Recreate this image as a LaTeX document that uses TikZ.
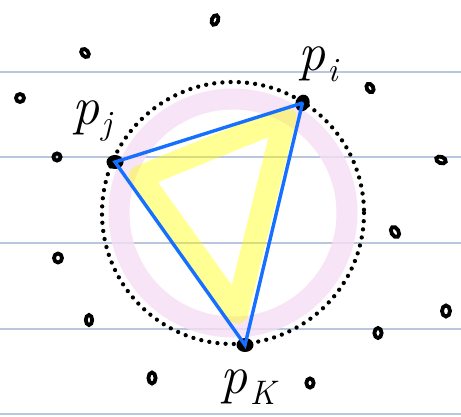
\documentclass[tikz,border=0pt]{standalone}
\usepackage{fontspec}
\usetikzlibrary{shapes.geometric}
\newcommand{\plab}[1]{\itshape p\hspace{0.04em}\raisebox{-0.2em}{\fontsize{34}{34}\selectfont #1}}
\begin{document}
\begin{tikzpicture}[x=1pt,y=-1pt,
  rule/.style={draw=ruleblue,line width=1.3pt},
  dotpt/.style={ellipse,fill=black,minimum width=17pt,minimum height=14pt,inner sep=0pt},
  edge/.style={draw=edgeblue,line width=3.4pt},
  scrib/.style={draw=black,line width=3.8pt},
  lab/.style={font=\fontsize{54}{54}\selectfont,inner sep=0pt}
]
\definecolor{ruleblue}{RGB}{184,198,222}
\definecolor{edgeblue}{RGB}{22,112,255}
\definecolor{pinkring}{RGB}{246,222,244}
\definecolor{hilite}{RGB}{255,255,0}
\useasboundingbox[fill=white] (0,0) rectangle (461,417);
% ruled lines
\foreach \yy in {72,157,243,329,414} \draw[rule] (0,\yy) -- (461,\yy);
% pink ring
\draw[pinkring,line width=21pt,opacity=0.8] (233,213) circle[radius=114];
% yellow triangle
\draw[hilite,opacity=0.42,line width=23pt,line join=round] (140,177) -- (285,118) -- (237,312) -- cycle;
% dotted circumcircle
\draw[line width=4.3pt,line cap=round,dash pattern=on 0pt off 8.2pt] (233,213) circle[radius=131];
% points
\node[dotpt,rotate=70] (pi) at (302.5,103) {};
\node[dotpt] (pj) at (115,162) {};
\node[dotpt] (pk) at (245,345) {};
\draw[edge] (pi.center) -- (pj.center) -- (pk.center) -- (pi.center);
\fill[edgeblue] (pi.center) circle[radius=1.4];
\fill[edgeblue] (pk.center) circle[radius=1.8];
% labels
\node[lab] (li) at (318,64) {\plab{i}};
\node[lab] (lj) at (92,121) {\plab{j}};
\node[lab] (lk) at (248,387) {\plab{K}};
% scattered marks
\draw[scrib,rotate around={-20:(215,20)}] (215,20) ellipse[x radius=3.2,y radius=5];
\draw[scrib,rotate around={40:(85,53)}] (85,53) ellipse[x radius=3.2,y radius=4.6];
\draw[scrib] (20,98) ellipse[x radius=4,y radius=4];
\draw[scrib] (57,157) ellipse[x radius=3.6,y radius=3.6];
\draw[scrib,rotate around={30:(370,88)}] (370,88) ellipse[x radius=3.2,y radius=4.6];
\draw[scrib,rotate around={70:(441,160)}] (441,160) ellipse[x radius=3.2,y radius=5];
\draw[scrib,rotate around={30:(395,232)}] (395,232) ellipse[x radius=3.6,y radius=5.5];
\draw[scrib] (58,258) ellipse[x radius=4,y radius=4.5];
\draw[scrib] (89,320) ellipse[x radius=3.2,y radius=5];
\draw[scrib] (152,378) ellipse[x radius=3.6,y radius=5.5];
\draw[scrib] (378,333) ellipse[x radius=3.6,y radius=5];
\draw[scrib] (446,311) ellipse[x radius=4,y radius=5.5];
\draw[scrib] (310,383) ellipse[x radius=3.6,y radius=4.6];
\end{tikzpicture}
\end{document}
